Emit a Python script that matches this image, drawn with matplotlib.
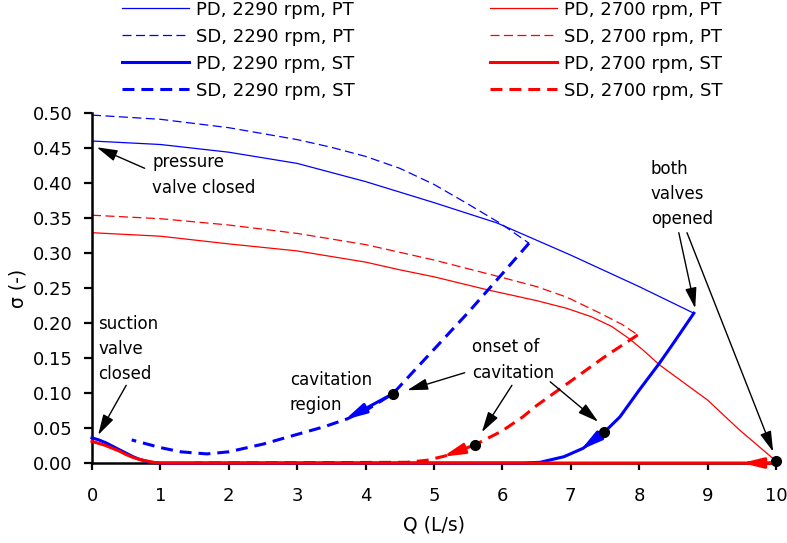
import matplotlib
matplotlib.use("Agg")
import matplotlib.pyplot as plt

plt.rcParams['font.family'] = ['DejaVu Sans']
plt.rcParams['lines.scale_dashes'] = False

# pump-turbine curves: Q (L/s) vs sigma (-)
q_pd_2290_pt = [0, 1, 2, 3, 4, 4.5, 5, 5.92, 7, 8, 8.8]
s_pd_2290_pt = [0.460, 0.455, 0.444, 0.428, 0.402, 0.387, 0.372, 0.343, 0.297, 0.252, 0.214]

q_sd_2290_pt = [0, 1, 2, 3, 3.5, 4, 4.5, 5, 5.48, 5.96, 6.11, 6.39]
s_sd_2290_pt = [0.497, 0.491, 0.479, 0.462, 0.451, 0.438, 0.421, 0.398, 0.371, 0.343, 0.333, 0.314]

q_pd_2700_pt = [0, 1, 2, 3, 4, 4.5, 5, 5.8, 6.5, 6.94, 7.3, 7.6, 7.85, 8.05, 8.3, 9.0, 9.47, 10]
s_pd_2700_pt = [0.329, 0.324, 0.313, 0.303, 0.287, 0.276, 0.266, 0.247, 0.232, 0.221, 0.209,
                0.195, 0.178, 0.162, 0.140, 0.090, 0.047, 0.003]

q_sd_2700_pt = [0, 1, 2, 3, 4, 4.5, 5, 5.96, 6.5, 6.94, 7.43, 7.75, 7.98]
s_sd_2700_pt = [0.354, 0.349, 0.340, 0.328, 0.312, 0.301, 0.290, 0.266, 0.252, 0.237, 0.214,
                0.198, 0.183]

q_pd_2290_st = [8.8, 8.5, 8.3, 8.0, 7.72, 7.49, 7.18, 6.9, 6.55, 6.3, 1.0, 0.85, 0.7, 0.6, 0.5,
                0.4, 0.3, 0.2, 0.1, 0.0]
s_pd_2290_st = [0.214, 0.171, 0.143, 0.104, 0.066, 0.044, 0.021, 0.009, 0.001, 0, 0, 0.001,
                0.005, 0.009, 0.014, 0.019, 0.024, 0.029, 0.033, 0.036]

q_sd_2290_st = [6.39, 5.96, 5.5, 5.13, 4.75, 4.4, 4.05, 3.73, 3.4, 3.04, 2.5, 2.0, 1.68, 1.3,
                1.0, 0.58]
s_sd_2290_st = [0.314, 0.266, 0.215, 0.176, 0.136, 0.099, 0.078, 0.063, 0.052, 0.042, 0.027,
                0.016, 0.013, 0.016, 0.022, 0.033]

q_pd_2700_st = [10, 9, 5, 1.0, 0.9, 0.8, 0.7, 0.6, 0.5, 0.4, 0.3, 0.2, 0.1, 0.0]
s_pd_2700_st = [0.0, 0, 0, 0, 0.001, 0.003, 0.005, 0.008, 0.012, 0.017, 0.021, 0.025, 0.028, 0.031]

q_sd_2700_st = [7.98, 7.5, 7.03, 6.5, 6.3, 6.0, 5.6, 5.16, 4.9, 4.6, 1.5]
s_sd_2700_st = [0.183, 0.152, 0.119, 0.082, 0.066, 0.046, 0.026, 0.010, 0.004, 0.001, 0.0]

labels_2290 = ['PD, 2290 rpm, PT', 'SD, 2290 rpm, PT', 'PD, 2290 rpm, ST', 'SD, 2290 rpm, ST']
labels_2700 = ['PD, 2700 rpm, PT', 'SD, 2700 rpm, PT', 'PD, 2700 rpm, ST', 'SD, 2700 rpm, ST']

# onset of cavitation / valve points
dot_q = [4.4, 5.6, 7.49, 10]
dot_s = [0.099, 0.026, 0.044, 0.003]

blue = '#0000ff'
red = '#ff0000'
thin = 0.9
thick = 2.2
d_thin = (0, (6.5, 3.2))
d_thick = (0, (8.6, 5.0))

fig = plt.figure(figsize=(7.87, 5.43), dpi=100)
ax = fig.add_axes([0.1169, 0.1473, 0.869, 0.6446])

h1, = ax.plot(q_pd_2290_pt, s_pd_2290_pt, color=blue, lw=thin)
h2, = ax.plot(q_sd_2290_pt, s_sd_2290_pt, color=blue, lw=thin, ls=d_thin)
h5, = ax.plot(q_pd_2700_pt, s_pd_2700_pt, color=red, lw=thin)
h6, = ax.plot(q_sd_2700_pt, s_sd_2700_pt, color=red, lw=thin, ls=d_thin)
h4, = ax.plot(q_sd_2290_st, s_sd_2290_st, color=blue, lw=thick, ls=d_thick)
h8, = ax.plot(q_sd_2700_st, s_sd_2700_st, color=red, lw=thick, ls=d_thick)
h3, = ax.plot(q_pd_2290_st, s_pd_2290_st, color=blue, lw=thick, clip_on=False, zorder=3)
h7, = ax.plot(q_pd_2700_st, s_pd_2700_st, color=red, lw=thick, clip_on=False, zorder=3.1)

# direction arrows on the ST curves
flow = [((7.49, 0.044), (7.15, 0.019), blue),
        ((5.6, 0.026), (5.13, 0.009), red),
        ((4.4, 0.099), (3.70, 0.062), blue),
        ((10, 0.0), (9.5, 0.0), red)]
for start, end, c in flow:
    ax.annotate('', xy=end, xytext=start, zorder=4,
                arrowprops=dict(arrowstyle='-|>,head_length=0.9,head_width=0.22',
                                color=c, lw=thick, mutation_scale=14,
                                shrinkA=0, shrinkB=0))

ax.plot(dot_q, dot_s, 'o', color='black', ms=7, clip_on=False, zorder=5)

# annotation texts and arrows
fs = 12
ax.text(0.88, 0.411, 'pressure\nvalve closed', fontsize=fs, va='center', linespacing=1.55)
ax.text(0.09, 0.163, 'suction\nvalve\nclosed', fontsize=fs, va='center', linespacing=1.5)
ax.text(2.89, 0.101, 'cavitation\nregion', fontsize=fs, va='center', linespacing=1.5)
ax.text(5.56, 0.147, 'onset of\ncavitation', fontsize=fs, va='center', linespacing=1.55)
ax.text(8.17, 0.384, 'both\nvalves\nopened', fontsize=fs, va='center', linespacing=1.5)

pointers = [((0.77, 0.421), (0.07, 0.451)),
            ((0.50, 0.111), (0.09, 0.040)),
            ((5.45, 0.129), (4.61, 0.104)),
            ((6.14, 0.111), (5.70, 0.044)),
            ((6.70, 0.116), (7.40, 0.059)),
            ((8.58, 0.329), (8.82, 0.221)),
            ((8.70, 0.329), (9.96, 0.016))]
for tail, head in pointers:
    ax.annotate('', xy=head, xytext=tail, annotation_clip=False, zorder=6,
                arrowprops=dict(arrowstyle='-|>,head_length=0.9,head_width=0.25',
                                color='black', lw=1.0, mutation_scale=14,
                                shrinkA=0, shrinkB=0))

ax.set_xlim(0, 10)
ax.set_ylim(0, 0.5)
ax.set_xticks(range(0, 11))
ax.set_yticks([0, 0.05, 0.1, 0.15, 0.2, 0.25, 0.3, 0.35, 0.4, 0.45, 0.5])
ax.set_yticklabels(['%.2f' % v for v in ax.get_yticks()])
ax.tick_params(axis='both', labelsize=13, width=1.6, direction='out')
ax.tick_params(axis='y', length=6, pad=8)
ax.tick_params(axis='x', length=5, pad=12)
for side in ['top', 'right']:
    ax.spines[side].set_visible(False)
for side in ['left', 'bottom']:
    ax.spines[side].set_linewidth(1.8)
ax.set_xlabel('Q (L/s)', fontsize=13.5, labelpad=8)
ax.set_ylabel('σ (-)', fontsize=13.5, labelpad=4)

leg_kw = dict(frameon=False, fontsize=13, borderpad=0, borderaxespad=0,
              handlelength=3.7, handletextpad=0.4, labelspacing=0.5, loc='upper left',
              bbox_transform=fig.transFigure)
leg1 = fig.legend([h1, h2, h3, h4], labels_2290, bbox_to_anchor=(0.155, 0.999), **leg_kw)
leg2 = fig.legend([h5, h6, h7, h8], labels_2700, bbox_to_anchor=(0.6226, 0.999), **leg_kw)

fig.savefig('out.png', dpi=100)
